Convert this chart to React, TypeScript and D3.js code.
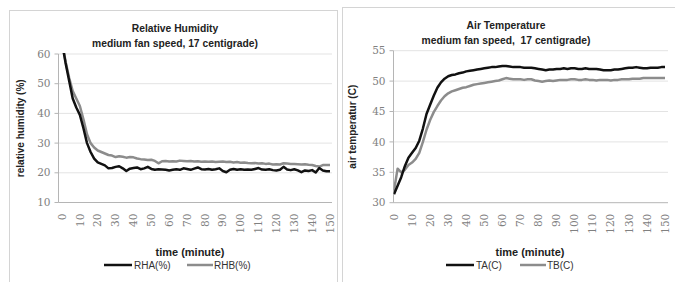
import * as d3 from 'd3'

// ─── Data ─────────────────────────────────────────────────────────────────────

const minutes = [
  0, 2, 4, 6, 8, 10, 12, 14, 16, 18, 20, 22, 24, 26, 28, 30, 32, 34, 36, 38,
  40, 42, 44, 46, 48, 50, 52, 54, 56, 58, 60, 62, 64, 66, 68, 70, 72, 74, 76, 78,
  80, 82, 84, 86, 88, 90, 92, 94, 96, 98, 100, 102, 104, 106, 108, 110, 112, 114, 116, 118,
  120, 122, 124, 126, 128, 130, 132, 134, 136, 138, 140, 142, 144, 146, 148, 150,
]

const rhA = [
  64, 57, 51, 45, 42, 39.5, 35, 30, 27, 24.8, 23.5, 23, 22.5, 21.5, 21.6, 22, 22.2, 21.5, 20.6, 21.4,
  21.6, 21.8, 21.2, 21.5, 22, 21.3, 21, 21.2, 21.1, 21, 20.8, 21, 21.2, 21, 21.5, 21.3, 21, 21.4, 21.8, 21.2,
  21.1, 21.3, 21, 21.2, 21.5, 20.6, 20.2, 21, 21.3, 21, 21.2, 21, 21.1, 21, 21.3, 21.6, 21.1, 21, 21.2, 20.9,
  20.8, 21, 22, 21.1, 20.9, 21.2, 20.8, 20.2, 20.8, 20.6, 20.9, 20.1, 21.6, 20.8, 20.5, 20.5,
]

const rhB = [
  64, 57.5, 52, 47.5, 45, 42.5, 38, 33, 30, 28.5, 27.5, 27, 26.5, 26, 25.8, 25.3, 25.6, 25.4, 25.1, 25.3,
  25.2, 24.8, 24.6, 24.5, 24.3, 24.4, 24, 23.2, 23.9, 24, 23.8, 23.9, 23.8, 24.1, 24, 23.9, 24, 23.8, 23.9, 23.7,
  23.8, 23.7, 23.8, 23.6, 23.7, 23.8, 23.6, 23.7, 23.5, 23.6, 23.4, 23.5, 23.3, 23.2, 23.3, 23.1, 23.2, 23, 23.1, 22.8,
  22.9, 22.8, 23.2, 23.1, 23, 23, 22.9, 22.8, 22.9, 22.7, 22.6, 22.3, 22.1, 22.6, 22.6, 22.6,
]

const tA = [
  31.4, 32.8, 34.2, 36.0, 37.4, 38.2, 39.0, 40.2, 42.2, 44.6, 46.1, 47.6, 48.9, 49.8, 50.4, 50.8, 51.0, 51.1, 51.3, 51.4,
  51.6, 51.7, 51.8, 51.9, 52.0, 52.1, 52.2, 52.3, 52.3, 52.4, 52.5, 52.5, 52.4, 52.3, 52.3, 52.3, 52.2, 52.2, 52.2, 52.1,
  52.0, 51.9, 51.8, 51.9, 51.9, 52.0, 52.0, 52.1, 52.0, 52.1, 52.1, 52.0, 52.0, 52.1, 52.0, 52.0, 52.0, 51.9, 51.8, 51.8,
  51.8, 51.9, 51.9, 52.0, 52.1, 52.2, 52.2, 52.3, 52.2, 52.1, 52.1, 52.2, 52.2, 52.2, 52.3, 52.3,
]

const tB = [
  32.0, 35.6, 35.0, 35.4, 36.2, 36.6, 37.2, 38.2, 40.0, 42.0, 43.6, 44.9, 45.9, 46.8, 47.5, 48.0, 48.3, 48.5, 48.7, 48.9,
  49.0, 49.2, 49.4, 49.5, 49.6, 49.7, 49.8, 49.9, 50.0, 50.1, 50.3, 50.5, 50.4, 50.3, 50.3, 50.3, 50.2, 50.3, 50.3, 50.1,
  50.0, 49.9, 50.0, 50.1, 50.0, 50.1, 50.2, 50.2, 50.2, 50.3, 50.3, 50.2, 50.2, 50.3, 50.2, 50.2, 50.1, 50.2, 50.2, 50.2,
  50.1, 50.2, 50.2, 50.3, 50.3, 50.3, 50.4, 50.4, 50.4, 50.5, 50.5, 50.5, 50.5, 50.5, 50.5, 50.5,
]

const xTicks = [0, 10, 20, 30, 40, 50, 60, 70, 80, 90, 100, 110, 120, 130, 140, 150]
const rhTicks = [10, 20, 30, 40, 50, 60]
const tempTicks = [30, 35, 40, 45, 50, 55]

// ─── Styles ───────────────────────────────────────────────────────────────────

const TICK_FONT = '"DejaVu Serif", serif'
const LABEL_FONT = '"Liberation Sans", Arial, sans-serif'
const DARK = '#111'
const GREY = '#8c8c8c'

interface PanelProps {
  id: string
  box: { x: number; y: number; w: number; h: number }
  plot: { x0: number; x1: number; y0: number; y1: number; t0: number; t150: number }
  yDomain: [number, number]
  yTicks: number[]
  title: string[]
  titleX: number
  titleY: number
  yTitle: string
  yTitleX: number
  xTitleX: number
  seriesA: number[]
  seriesB: number[]
  legend: { a: string; b: string; x: number; gap: number }
}

function Panel(p: PanelProps) {
  const { plot } = p
  const x = d3.scaleLinear().domain([0, 150]).range([plot.t0, plot.t150])
  const y = d3.scaleLinear().domain(p.yDomain).range([plot.y1, plot.y0])
  const line = d3.line<number>()
    .x((_, i) => x(minutes[i]))
    .y((d) => y(d))

  const lg = p.legend

  return (
    <g>
      <rect x={p.box.x} y={p.box.y} width={p.box.w} height={p.box.h}
        fill="#fff" stroke="#d4d4d4" strokeWidth={1} />
      <defs>
        <clipPath id={p.id}>
          <rect x={plot.x0} y={plot.y0 - 1} width={plot.x1 - plot.x0} height={plot.y1 - plot.y0 + 1} />
        </clipPath>
      </defs>

      {/* gridlines */}
      {p.yTicks.slice(1).map((t) => (
        <line key={t} x1={plot.x0} x2={plot.x1} y1={y(t)} y2={y(t)} stroke="#e3e3e3" strokeWidth={1} />
      ))}

      {/* axes */}
      <line x1={plot.x0} x2={plot.x0} y1={plot.y0} y2={plot.y1} stroke="#b5b5b5" />
      <line x1={plot.x0} x2={plot.x1} y1={plot.y1} y2={plot.y1} stroke="#b5b5b5" />
      {p.yTicks.map((t) => (
        <g key={t}>
          <line x1={plot.x0 - 4} x2={plot.x0} y1={y(t)} y2={y(t)} stroke="#b5b5b5" />
          <text x={plot.x0 - 8} y={y(t)} dy="0.35em" textAnchor="end"
            fontFamily={TICK_FONT} fontSize={10.5} fill="#808080">{t}</text>
        </g>
      ))}
      {xTicks.map((t) => (
        <text key={t} transform={`translate(${x(t)},${plot.y1 + 11}) rotate(-90)`} dy="0.35em"
          textAnchor="end" fontFamily={TICK_FONT} fontSize={10.5} fill="#808080">{t}</text>
      ))}

      {/* series */}
      <g clipPath={`url(#${p.id})`}>
        <path d={line(p.seriesB) ?? ''} fill="none" stroke={GREY} strokeWidth={2.5} strokeLinejoin="round" />
        <path d={line(p.seriesA) ?? ''} fill="none" stroke={DARK} strokeWidth={2.5} strokeLinejoin="round" />
      </g>

      {/* titles */}
      {p.title.map((s, i) => (
        <text key={i} x={p.titleX} y={p.titleY + i * 15} textAnchor="middle" style={{ whiteSpace: 'pre' }}
          fontFamily={LABEL_FONT} fontWeight="bold" fontSize={10.3} fill="#222">{s}</text>
      ))}
      <text transform={`translate(${p.yTitleX},${(plot.y0 + plot.y1) / 2}) rotate(-90)`} dy="0.35em"
        textAnchor="middle" fontFamily={LABEL_FONT} fontWeight="bold" fontSize={10} fill="#222">{p.yTitle}</text>
      <text x={p.xTitleX} y={256} textAnchor="middle" fontFamily={LABEL_FONT} fontWeight="bold"
        fontSize={11} fill="#222">time (minute)</text>

      {/* legend */}
      <line x1={lg.x} x2={lg.x + 28} y1={265} y2={265} stroke={DARK} strokeWidth={2.5} />
      <text x={lg.x + 30} y={269} fontFamily={LABEL_FONT} fontSize={10} fill="#333">{lg.a}</text>
      <line x1={lg.x + lg.gap} x2={lg.x + lg.gap + 26} y1={265} y2={265} stroke={GREY} strokeWidth={2.5} />
      <text x={lg.x + lg.gap + 27} y={269} fontFamily={LABEL_FONT} fontSize={10} fill="#333">{lg.b}</text>
    </g>
  )
}

export default function App() {
  return (
    <svg width={675} height={282} style={{ position: 'absolute', left: 0, top: 0, background: '#fff' }}>
      <Panel
        id="clip-rh"
        box={{ x: 9.5, y: 10.5, w: 328, h: 300 }}
        plot={{ x0: 58.5, x1: 332, y0: 54, y1: 202.5, t0: 62, t150: 330 }}
        yDomain={[10, 60]}
        yTicks={rhTicks}
        title={['Relative Humidity', 'medium fan speed, 17 centigrade)']}
        titleX={175}
        titleY={32}
        yTitle="relative humidity (%)"
        yTitleX={20}
        xTitleX={190}
        seriesA={rhA}
        seriesB={rhB}
        legend={{ a: 'RHA(%)', b: 'RHB(%)', x: 104, gap: 83 }}
      />
      <Panel
        id="clip-t"
        box={{ x: 342.5, y: 7.5, w: 400, h: 300 }}
        plot={{ x0: 393.5, x1: 668, y0: 50.7, y1: 202.7, t0: 394, t150: 665 }}
        yDomain={[30, 55]}
        yTicks={tempTicks}
        title={['Air Temperature', 'medium fan speed,  17 centigrade)']}
        titleX={506}
        titleY={29}
        yTitle="air temperatur (C)"
        yTitleX={352}
        xTitleX={530}
        seriesA={tA}
        seriesB={tB}
        legend={{ a: 'TA(C)', b: 'TB(C)', x: 446, gap: 74 }}
      />
    </svg>
  )
}
